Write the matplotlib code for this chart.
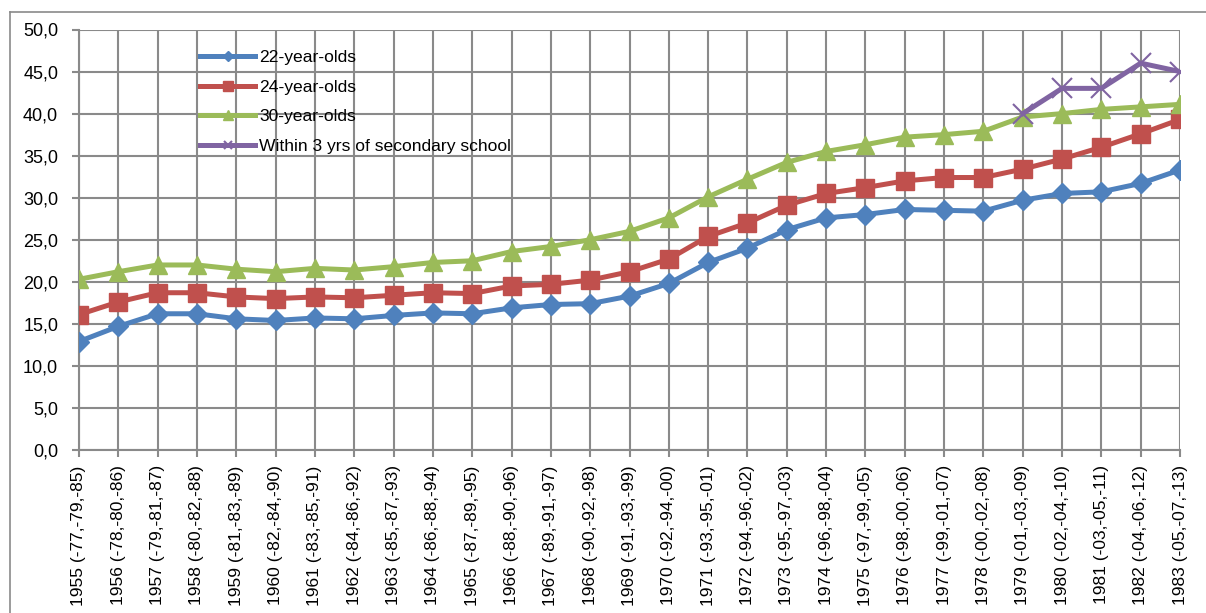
import matplotlib
matplotlib.use("Agg")
import matplotlib.pyplot as plt
from matplotlib.lines import Line2D

# -------------------------------
# Data
# -------------------------------
birth_years = list(range(1955, 1984))
tick_labels = [
    "1955 (-77,-79,-85)", "1956 (-78,-80,-86)", "1957 (-79,-81,-87)",
    "1958 (-80,-82,-88)", "1959 (-81,-83,-89)", "1960 (-82,-84,-90)",
    "1961 (-83,-85,-91)", "1962 (-84,-86,-92)", "1963 (-85,-87,-93)",
    "1964 (-86,-88,-94)", "1965 (-87,-89,-95)", "1966 (-88,-90,-96)",
    "1967 (-89,-91,-97)", "1968 (-90,-92,-98)", "1969 (-91,-93,-99)",
    "1970 (-92,-94,-00)", "1971 (-93,-95,-01)", "1972 (-94,-96,-02)",
    "1973 (-95,-97,-03)", "1974 (-96,-98,-04)", "1975 (-97,-99,-05)",
    "1976 (-98,-00,-06)", "1977 (-99,-01,-07)", "1978 (-00,-02,-08)",
    "1979 (-01,-03,-09)", "1980 (-02,-04,-10)", "1981 (-03,-05,-11)",
    "1982 (-04,-06,-12)", "1983 (-05,-07,-13)",
]

age22 = [12.9, 14.7, 16.2, 16.2, 15.6, 15.4, 15.7, 15.6, 16.0, 16.3,
         16.2, 16.9, 17.3, 17.4, 18.3, 19.8, 22.3, 24.0, 26.2, 27.6,
         28.0, 28.6, 28.5, 28.4, 29.7, 30.5, 30.7, 31.7, 33.3]
age24 = [16.1, 17.6, 18.7, 18.7, 18.2, 18.0, 18.2, 18.1, 18.4, 18.7,
         18.6, 19.5, 19.7, 20.2, 21.2, 22.7, 25.4, 27.0, 29.1, 30.5,
         31.2, 32.0, 32.4, 32.4, 33.4, 34.6, 36.0, 37.6, 39.3]
age30 = [20.3, 21.2, 22.0, 22.0, 21.5, 21.2, 21.6, 21.4, 21.8, 22.3,
         22.5, 23.6, 24.2, 25.0, 26.0, 27.6, 30.1, 32.2, 34.2, 35.5,
         36.3, 37.2, 37.5, 37.9, 39.6, 40.0, 40.5, 40.8, 41.1]
# only the last five cohorts have this series
within3_years = [1979, 1980, 1981, 1982, 1983]
within3 = [40.0, 43.0, 43.0, 46.0, 45.0]

plt.rcParams['font.family'] = ['Liberation Sans', 'DejaVu Sans']

fig = plt.figure(figsize=(12.06, 6.13), dpi=100)
ax = fig.add_axes([79 / 1206, 1 - 450 / 613, (1180 - 79) / 1206, (450 - 29.5) / 613])

x = list(range(len(birth_years)))
x_w3 = [birth_years.index(y) for y in within3_years]

ax.plot(x, age22, color='#4F81BD', lw=3.6, marker='D', ms=10,
        label='22-year-olds', zorder=3)
ax.plot(x, age24, color='#C0504D', lw=3.6, marker='s', ms=13,
        label='24-year-olds', zorder=3)
ax.plot(x, age30, color='#9BBB59', lw=3.6, marker='^', ms=13.5,
        label='30-year-olds', zorder=3)
ax.plot(x_w3, within3, color='#8064A2', lw=3.6, marker='x', ms=14, mew=1.5,
        label='Within 3 yrs of secondary school', zorder=4)

ax.set_xlim(0, len(x) - 1)
ax.set_ylim(0, 50)
ax.set_yticks([i * 5 for i in range(11)])
ax.set_yticklabels([f"{i * 5},0" for i in range(11)], fontsize=13)
ax.set_xticks(x)
ax.set_xticklabels(tick_labels, rotation=90, fontsize=12.5)

ax.grid(True, color='#8a8a8a', lw=1.5)
ax.set_axisbelow(True)
for side in ['top', 'right']:
    ax.spines[side].set_visible(False)
for side in ['left', 'bottom']:
    ax.spines[side].set_color('#8a8a8a')
    ax.spines[side].set_linewidth(1.5)
ax.tick_params(axis='both', color='#8a8a8a', width=1.5, length=5)
ax.tick_params(axis='y', pad=10)
ax.tick_params(axis='x', pad=6)

# legend with small markers, no frame
handles = [
    Line2D([], [], color='#4F81BD', lw=3.6, marker='D', ms=5),
    Line2D([], [], color='#C0504D', lw=3.6, marker='s', ms=7),
    Line2D([], [], color='#9BBB59', lw=3.6, marker='^', ms=7),
    Line2D([], [], color='#8064A2', lw=3.6, marker='x', ms=6, mew=1.5),
]
labels = ['22-year-olds', '24-year-olds', '30-year-olds',
          'Within 3 yrs of secondary school']
ax.legend(handles, labels, loc='upper left',
          bbox_to_anchor=(200 / 1206, 1 - 50 / 613), bbox_transform=fig.transFigure,
          frameon=False, fontsize=12.6, handlelength=3.15, handletextpad=0.22,
          labelspacing=0.82, borderpad=0, borderaxespad=0)

# outer chart border (left and top edges visible in the reference)
fig.add_artist(Line2D([9.5 / 1206, 9.5 / 1206], [0, 1 - 12 / 613],
                      color='#8a8a8a', lw=1.2, transform=fig.transFigure))
fig.add_artist(Line2D([9.5 / 1206, 1], [1 - 12 / 613, 1 - 12 / 613],
                      color='#8a8a8a', lw=1.2, transform=fig.transFigure))

fig.savefig('out.png', dpi=100, facecolor='white')
